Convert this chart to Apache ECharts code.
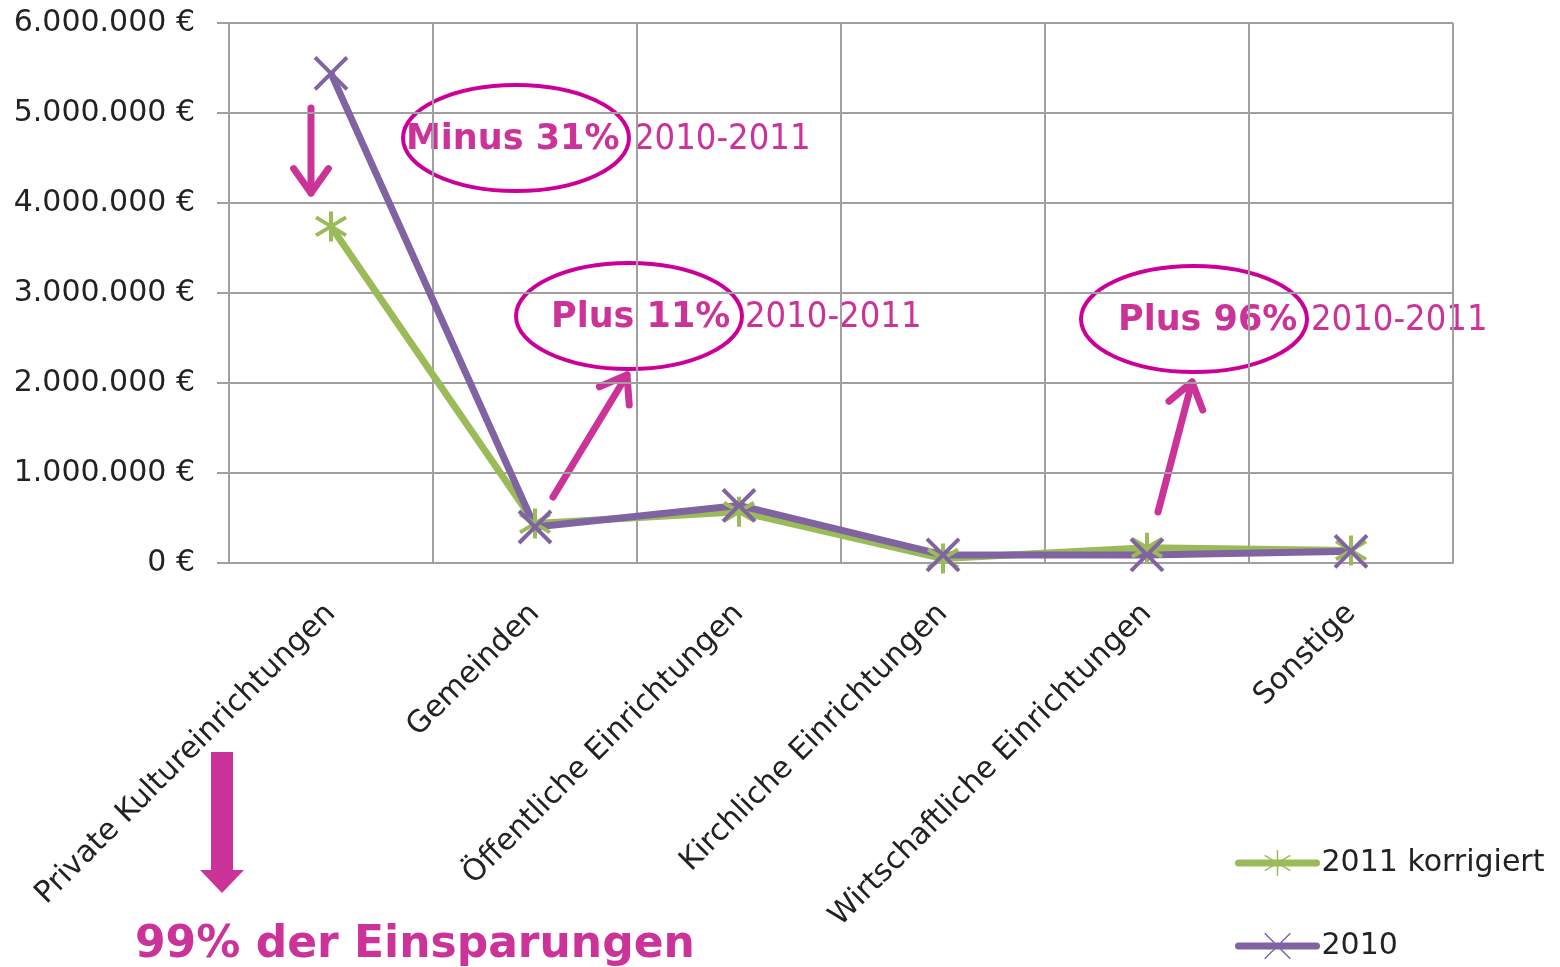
<!DOCTYPE html>
<html>
<head>
<meta charset="utf-8">
<script src="https://cdn.jsdelivr.net/npm/echarts@6/dist/echarts.min.js"></script>
<style>
  html, body { margin: 0; padding: 0; background: #fff; }
  #main { width: 1560px; height: 967px; }
</style>
</head>
<body>
<div id="main"></div>
<script>
// Kategorien und Werte
var categories = ['Private Kultureinrichtungen', 'Gemeinden', 'Öffentliche Einrichtungen',
    'Kirchliche Einrichtungen', 'Wirtschaftliche Einrichtungen', 'Sonstige'];
var values2011 = [3740000, 440000, 570000, 50000, 170000, 140000];
var values2010 = [5440000, 400000, 640000, 90000, 90000, 130000];
var yTicks = [0, 1000000, 2000000, 3000000, 4000000, 5000000, 6000000];

var pink = '#cc3399';
var ring = '#cc0099';
var gridColor = '#a0a0a0';

var myChart = echarts.init(document.getElementById('main'));

function euro(v) {
    return String(v).replace(/\B(?=(\d{3})+(?!\d))/g, '.') + ' €';
}

// Pfeil mit offener Spitze
function arrow(x1, y1, x2, y2) {
    var dx = x2 - x1, dy = y2 - y1;
    var len = Math.sqrt(dx * dx + dy * dy);
    var ux = dx / len, uy = dy / len;
    var hl = 30, a = 0.62;
    var c = Math.cos(a), s = Math.sin(a);
    var p1 = [x2 - hl * (ux * c - uy * s), y2 - hl * (uy * c + ux * s)];
    var p2 = [x2 - hl * (ux * c + uy * s), y2 - hl * (uy * c - ux * s)];
    var st = { stroke: pink, lineWidth: 7, lineCap: 'round', lineJoin: 'round', fill: null };
    return [
        { type: 'line', shape: { x1: x1, y1: y1, x2: x2, y2: y2 }, style: st },
        { type: 'polyline', shape: { points: [p1, [x2, y2], p2] }, style: st }
    ];
}

function note(cx, cy, bold, bx, rx) {
    return [
        { type: 'ellipse', shape: { cx: cx, cy: cy, rx: 113, ry: 53 },
          style: { stroke: ring, lineWidth: 4, fill: null } },
        { type: 'text', style: { x: bx, y: cy + 2, text: bold, fill: pink,
          font: 'bold 35px "DejaVu Sans"', verticalAlign: 'middle' } },
        { type: 'text', style: { x: rx, y: cy + 2, text: '2010-2011', fill: pink,
          font: '36px "DejaVu Sans Condensed"', verticalAlign: 'middle' } }
    ];
}

var graphics = [].concat(
    arrow(311, 108, 311, 193),
    note(516, 138, 'Minus 31%', 406, 634),
    note(629, 316, 'Plus 11%', 551, 745),
    arrow(553, 497, 627, 375),
    note(1194, 319, 'Plus 96%', 1118, 1311),
    arrow(1158, 512, 1192, 382),
    [
        { type: 'rect', shape: { x: 211, y: 752, width: 22, height: 120 }, style: { fill: pink } },
        { type: 'polygon', shape: { points: [[200, 870], [244, 870], [222, 893]] }, style: { fill: pink } },
        { type: 'text', style: { x: 135, y: 946, text: '99% der Einsparungen', fill: pink,
          font: 'bold 44px "DejaVu Sans"', verticalAlign: 'middle' } }
    ]
);

var starPath = 'path://M10,0L10,20M1,4L19,16M1,16L19,4';
var crossPath = 'path://M0,0L20,20M20,0L0,20';

option = {
    animation: false,
    textStyle: { fontFamily: 'DejaVu Sans' },
    grid: { left: 229, right: 107, top: 23, bottom: 404 },
    legend: {
        orient: 'vertical',
        left: 1230,
        top: 843,
        height: 124,
        itemWidth: 78,
        itemHeight: 32,
        itemGap: 53,
        lineStyle: { width: 7, cap: 'round' },
        itemStyle: { borderWidth: 1.5 },
        textStyle: { fontSize: 30, color: '#222', fontFamily: 'DejaVu Sans' },
        data: ['2011 korrigiert', '2010']
    },
    xAxis: {
        type: 'category',
        data: categories,
        boundaryGap: true,
        axisLine: { lineStyle: { color: gridColor, width: 2 } },
        axisTick: { show: false },
        splitLine: { show: true, interval: 0, lineStyle: { color: gridColor, width: 2 } },
        axisLabel: { interval: 0, rotate: 45, margin: 46, fontSize: 30, color: '#222' }
    },
    yAxis: {
        type: 'value',
        min: yTicks[0],
        max: yTicks[yTicks.length - 1],
        interval: yTicks[1] - yTicks[0],
        axisLine: { show: true, lineStyle: { color: gridColor, width: 2 } },
        axisTick: { show: true, length: 12, lineStyle: { color: gridColor, width: 2 } },
        splitLine: { lineStyle: { color: gridColor, width: 2 } },
        axisLabel: { margin: 34, fontSize: 30, color: '#222', formatter: euro }
    },
    series: [{
        name: '2011 korrigiert',
        type: 'line',
        data: values2011,
        symbol: starPath,
        symbolSize: 30,
        lineStyle: { color: '#9bbb59', width: 7 },
        itemStyle: { color: '#9bbb59', borderColor: '#9bbb59', borderWidth: 4 }
    }, {
        name: '2010',
        type: 'line',
        data: values2010,
        symbol: crossPath,
        symbolSize: 32,
        lineStyle: { color: '#8064a2', width: 7 },
        itemStyle: { color: '#8064a2', borderColor: '#8064a2', borderWidth: 4 }
    }],
    graphic: graphics
};

myChart.setOption(option);
</script>
</body>
</html>
